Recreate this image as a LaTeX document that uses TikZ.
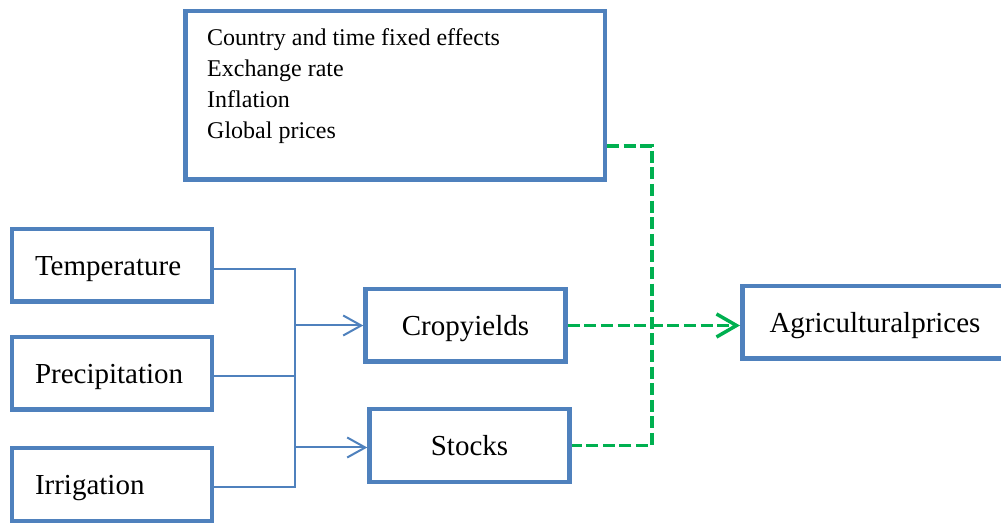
\documentclass[tikz,border=0pt]{standalone}
\usepackage{fontspec}
\setmainfont{Liberation Serif}
\usetikzlibrary{arrows.meta,positioning}
\definecolor{boxblue}{HTML}{4F81BD}
\definecolor{effectgreen}{HTML}{00B050}

\begin{document}
\begin{tikzpicture}[x=0.5pt,y=-0.5pt,
    box/.style={draw=boxblue,line width=2.25pt,rectangle,minimum width=100pt,minimum height=36.25pt,
      font=\fontsize{14.5}{17}\selectfont,text height=9.6pt,text depth=0pt},
    driver/.style={box,text width=77pt,inner xsep=11.4pt,align=left},
    link/.style={draw=boxblue,line width=1pt},
    effect/.style={draw=effectgreen,line width=1.75pt,dash pattern=on 6pt off 2.3pt}]
		\useasboundingbox (0,0) rectangle (1001,523);
		\clip (0,0) rectangle (1001,523);

		% boxes
		\node[box,minimum width=209.75pt,minimum height=84.25pt] (factors) at (395,95.5) {};
		\node[below right=9.8pt and 11.9pt of factors.north west,inner sep=0pt,align=left,
		      font=\fontsize{12}{15.5}\selectfont] (controls)
		      {Country and time fixed effects\\Exchange rate\\Inflation\\Global prices};
		\node[driver] (temp)   at (112,265.5) {Temperature};
		\node[driver] (precip) at (112,373.5) {Precipitation};
		\node[driver] (irrig)  at (112,484.5) {Irrigation};
		\node[box]    (crop)   at (465.5,325.5) {Cropyields};
		\node[box]    (stocks) at (469.5,445.5) {Stocks};
		\node[box,minimum width=132.75pt] (agri) at (875,322.5) {Agriculturalprices};

		% connectors
		\coordinate (bus)  at (295,300);
		\coordinate (gbus) at (652,146);
		\draw[link] ([yshift=-2pt]temp.east) -- ([yshift=-2pt]temp.east -| bus)
		    -- ([yshift=-1.2pt]irrig.east -| bus) -- ([yshift=-1.2pt]irrig.east);
		\draw[link] ([yshift=-1.2pt]precip.east) -- ([yshift=-1.2pt]precip.east -| bus);
		\draw[link,-{Straight Barb[length=9pt,width=10pt]}] (crop.west -| bus) -- (crop.west);
		\draw[link,-{Straight Barb[length=9pt,width=10pt]}] ([yshift=-1pt]stocks.west -| bus) -- ([yshift=-1pt]stocks.west);
		\draw[effect] (gbus -| factors.east) -- (gbus) -- (gbus |- stocks.east) -- (stocks.east);
		\draw[effect,-{Straight Barb[length=10pt,width=11.5pt]}] (crop.east) -- (crop.east -| agri.west);
	\end{tikzpicture}
\end{document}
